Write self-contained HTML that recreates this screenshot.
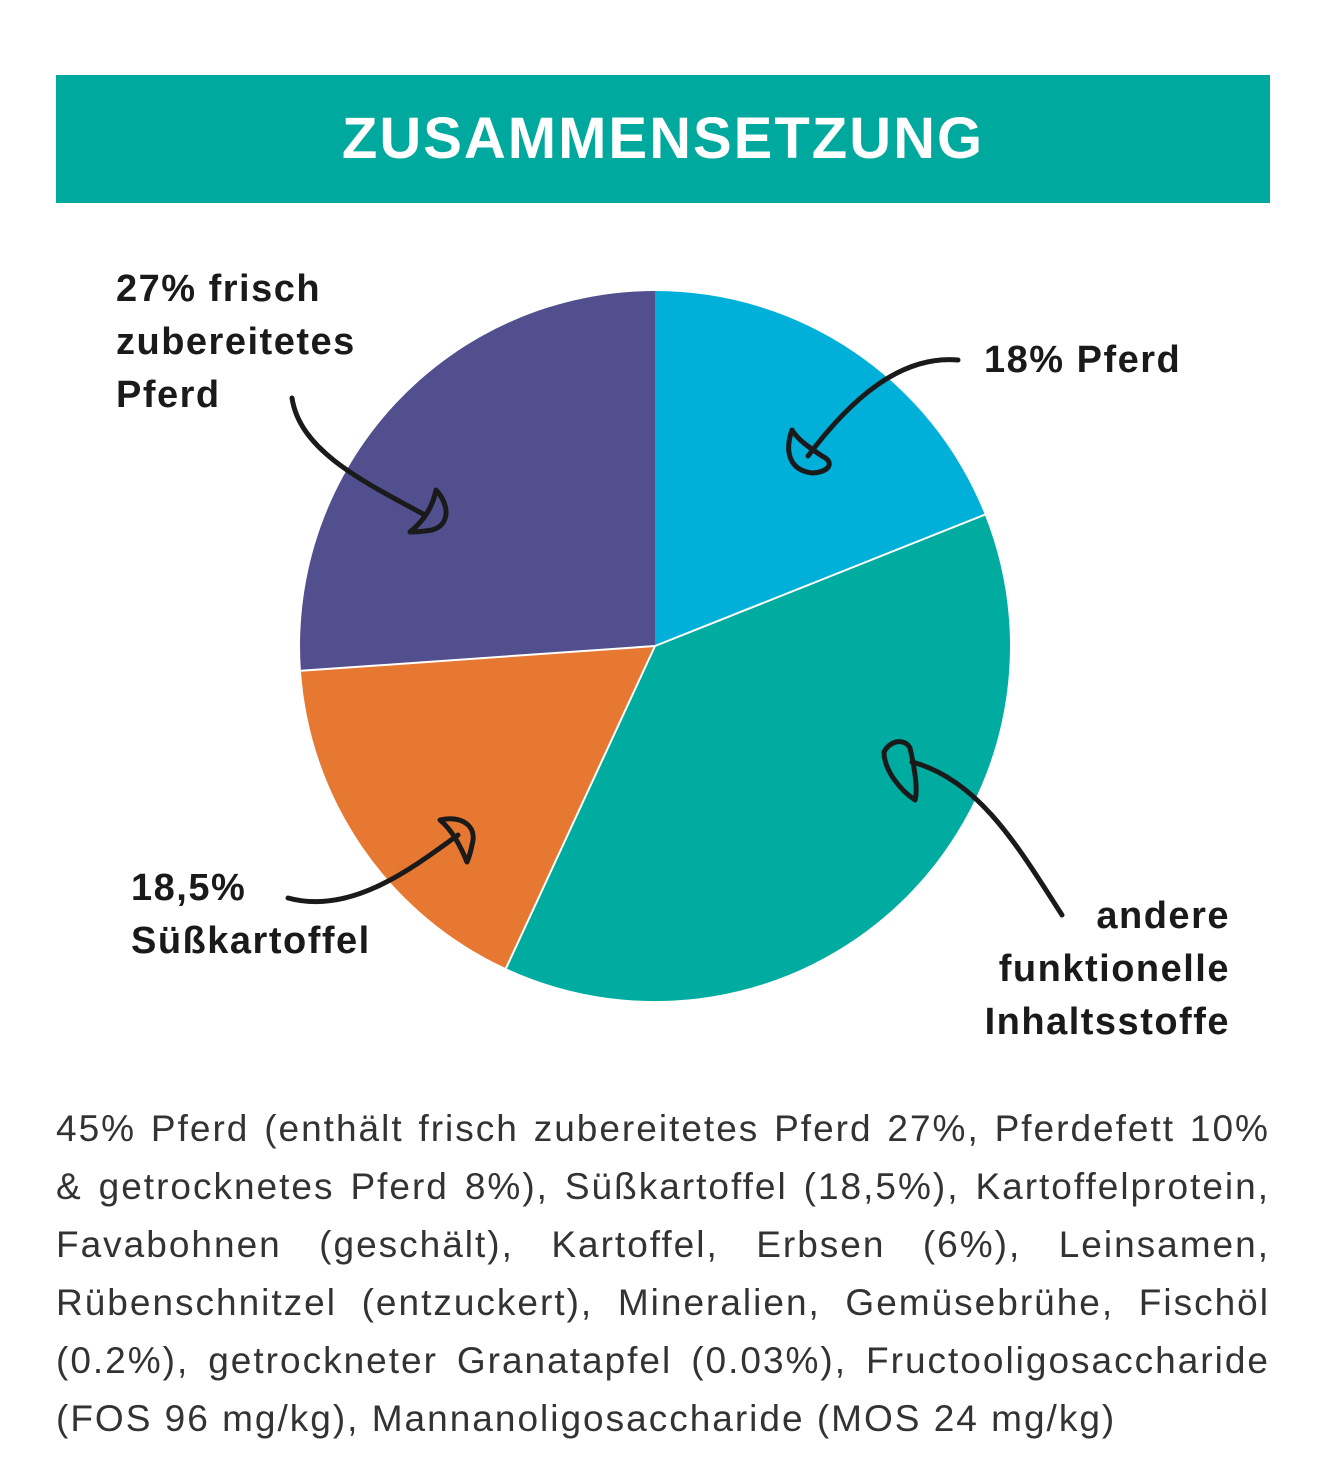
<!DOCTYPE html><html><head><meta charset="utf-8"><style>
body{margin:0;width:1337px;height:1468px;background:#fff;position:relative;font-family:"Liberation Sans",sans-serif;overflow:hidden}
.hdr{position:absolute;left:56px;top:75px;width:1214px;height:128px;background:#00a99d;color:#fff;font-weight:bold;font-size:58px;text-align:center;line-height:128px;letter-spacing:2px}
.lab{position:absolute;font-weight:bold;font-size:38px;line-height:53px;color:#1a1a1a;letter-spacing:1.5px}
.txt{position:absolute;left:56px;top:1100px;width:1214px;font-size:37px;line-height:58px;color:#333;letter-spacing:2px}
.txt div{white-space:nowrap;display:flex;justify-content:space-between}
</style></head><body>
<div class="hdr">ZUSAMMENSETZUNG</div>
<svg style="position:absolute;left:0;top:0" width="1337" height="1468">
<path d="M655,646 L655,291 A355,355 0 0 1 984.8,514.7 Z" fill="#00b0d8"/>
<path d="M655,646 L984.8,514.7 A355,355 0 0 1 506,968.3 Z" fill="#00ab9f"/>
<path d="M655,646 L506,968.3 A355,355 0 0 1 300.9,670.8 Z" fill="#e67832"/>
<path d="M655,646 L300.9,670.8 A355,355 0 0 1 655,291 Z" fill="#524f8e"/>
<g stroke="#fff" stroke-width="2" fill="none"><path d="M655,646 L984.8,514.7 M655,646 L506,968.3 M655,646 L300.9,670.8"/></g>
<g stroke="#1a1a1a" stroke-width="5" fill="none" stroke-linecap="round" stroke-linejoin="round">
<path d="M958,360 C900,355 850,400 808,456"/>
<path d="M792,430 C785,450 788,470 812,473 C830,472 835,462 822,456 C810,448 798,440 792,430 Z"/>
<path d="M292,398 C300,450 360,480 425,515"/>
<path d="M436,490 C450,505 450,525 432,530 C420,532 410,532 410,532 C425,520 433,505 436,490 Z"/>
<path d="M288,898 C350,915 410,870 458,835"/>
<path d="M440,820 C460,815 478,825 472,845 C470,855 467,862 467,862 C460,845 452,830 440,820 Z"/>
<path d="M1062,915 C1020,850 980,780 912,762"/>
<path d="M884,752 C890,740 905,738 910,748 C915,770 918,790 915,800 C900,790 884,770 884,752 Z"/>
</g>
</svg>
<div class="lab" style="left:116px;top:263px">27% frisch<br>zubereitetes<br>Pferd</div>
<div class="lab" style="left:984px;top:334px">18% Pferd</div>
<div class="lab" style="left:131px;top:862px">18,5%<br>Süßkartoffel</div>
<div class="lab" style="left:930px;top:890px;text-align:right;width:300px">andere<br>funktionelle<br>Inhaltsstoffe</div>
<div class="txt">
<div><span>45%</span><span>Pferd</span><span>(enthält</span><span>frisch</span><span>zubereitetes</span><span>Pferd</span><span>27%,</span><span>Pferdefett</span><span>10%</span></div>
<div><span>&amp;</span><span>getrocknetes</span><span>Pferd</span><span>8%),</span><span>Süßkartoffel</span><span>(18,5%),</span><span>Kartoffelprotein,</span></div>
<div><span>Favabohnen</span><span>(geschält),</span><span>Kartoffel,</span><span>Erbsen</span><span>(6%),</span><span>Leinsamen,</span></div>
<div><span>Rübenschnitzel</span><span>(entzuckert),</span><span>Mineralien,</span><span>Gemüsebrühe,</span><span>Fischöl</span></div>
<div><span>(0.2%),</span><span>getrockneter</span><span>Granatapfel</span><span>(0.03%),</span><span>Fructooligosaccharide</span></div>
<div style="display:block">(FOS 96 mg/kg), Mannanoligosaccharide (MOS 24 mg/kg)</div>
</div>
</body></html>
